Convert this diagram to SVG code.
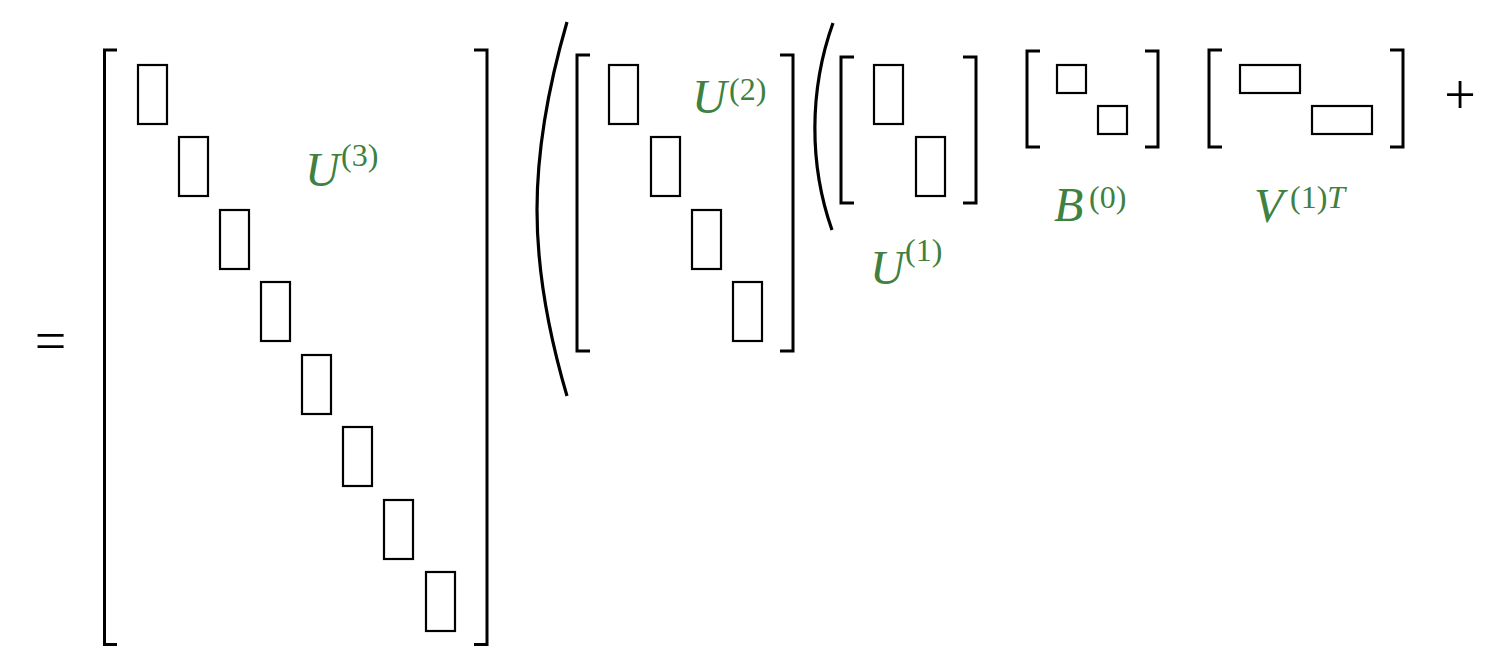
<svg xmlns="http://www.w3.org/2000/svg" width="1511" height="668" viewBox="0 0 1511 668">
<style>
.br{fill:none;stroke:#000;stroke-width:3;stroke-linecap:butt;stroke-linejoin:miter}
.par{fill:none;stroke:#000;stroke-width:3.2}
.blk{fill:#fff;stroke:#000;stroke-width:2.2}
.lbl{font-family:"Liberation Serif","DejaVu Serif",serif;fill:#408040}
.it{font-style:italic;font-size:48px}
.sup{font-size:32px}
.op{font-family:"Liberation Serif","DejaVu Serif",serif;font-size:56px;fill:#000;text-anchor:middle}
</style>
<rect width="1511" height="668" fill="#fff"/>
<text class="op" x="50.5" y="360">=</text>
<g id="U3">
<path class="br" d="M117,50 H104.5 V644.5 H117"/>
<path class="br" d="M474,50 H487 V644.5 H474"/>
<rect class="blk" x="138" y="65" width="29" height="59"/>
<rect class="blk" x="179" y="137" width="29" height="59"/>
<rect class="blk" x="220" y="210" width="29" height="59"/>
<rect class="blk" x="261" y="282" width="29" height="59"/>
<rect class="blk" x="302" y="355" width="29" height="59"/>
<rect class="blk" x="343" y="427" width="29" height="59"/>
<rect class="blk" x="384" y="500" width="29" height="59"/>
<rect class="blk" x="426" y="572" width="29" height="59"/>
<text class="lbl"><tspan class="it" x="305" y="186">U</tspan><tspan class="sup" x="341" y="166">(3)</tspan></text>
</g>
<g id="delimiters">
<path class="par" d="M567,22 C527,160 527,260 567,396"/>
<path class="par" d="M833,23 C809,90 809,165 832,230"/>
</g>
<g id="U2">
<path class="br" d="M590,55 H577 V351 H590"/>
<path class="br" d="M780,55 H793 V351 H780"/>
<rect class="blk" x="609" y="65" width="29" height="59"/>
<rect class="blk" x="651" y="137" width="29" height="59"/>
<rect class="blk" x="692" y="210" width="29" height="59"/>
<rect class="blk" x="733" y="282" width="29" height="59"/>
<text class="lbl"><tspan class="it" x="692" y="113">U</tspan><tspan class="sup" x="729" y="100">(2)</tspan></text>
</g>
<g id="U1">
<path class="br" d="M854,57 H841 V203 H854"/>
<path class="br" d="M963,57 H976 V203 H963"/>
<rect class="blk" x="874" y="65" width="29" height="59"/>
<rect class="blk" x="916" y="137" width="29" height="59"/>
<text class="lbl"><tspan class="it" x="870" y="284">U</tspan><tspan class="sup" x="905" y="261">(1)</tspan></text>
</g>
<g id="B0">
<path class="br" d="M1040,51 H1027 V147 H1040"/>
<path class="br" d="M1145,51 H1158 V147 H1145"/>
<rect class="blk" x="1057" y="65" width="29" height="28"/>
<rect class="blk" x="1098" y="106" width="29" height="28"/>
<text class="lbl"><tspan class="it" x="1054" y="221">B</tspan><tspan class="sup" x="1089" y="208">(0)</tspan></text>
</g>
<g id="V1T">
<path class="br" d="M1222,50 H1209 V147 H1222"/>
<path class="br" d="M1390,50 H1403 V147 H1390"/>
<rect class="blk" x="1240" y="65" width="60" height="28"/>
<rect class="blk" x="1312" y="106" width="60" height="28"/>
<text class="lbl"><tspan class="it" x="1254" y="222">V</tspan><tspan class="sup" x="1290" y="208">(1)<tspan font-style="italic">T</tspan></tspan></text>
</g>
<text class="op" x="1460" y="114">+</text>
</svg>
